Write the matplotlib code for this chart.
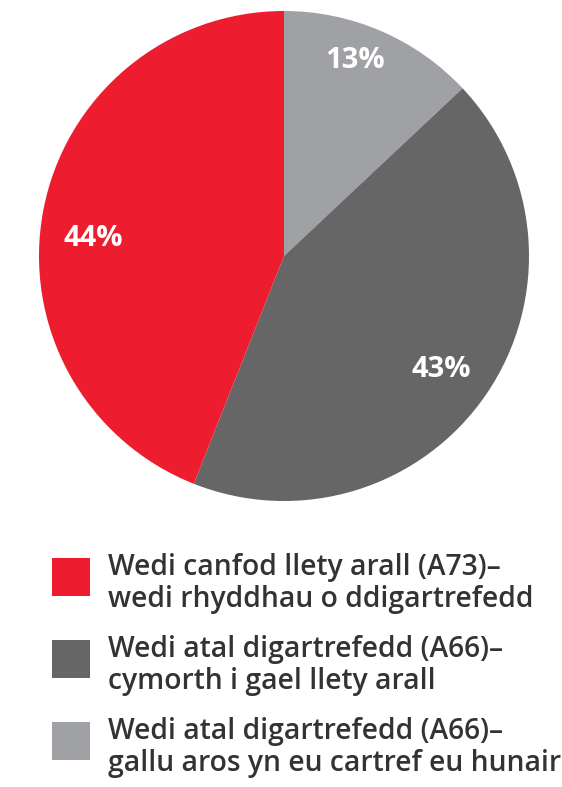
import matplotlib
matplotlib.use("Agg")
import matplotlib.pyplot as plt
import matplotlib.patches as mpatches
import numpy as np

# data, clockwise from 12 o'clock
shares = [13, 43, 44]
pct_labels = ["13%", "43%", "44%"]
colors = ["#A0A1A4", "#666666", "#ED1C2E"]
legend_lines = [
    ("Wedi canfod llety arall (A73)–", "wedi rhyddhau o ddigartrefedd"),
    ("Wedi atal digartrefedd (A66)–", "cymorth i gael llety arall"),
    ("Wedi atal digartrefedd (A66)–", "gallu aros yn eu cartref eu hunair"),
]
legend_colors = ["#ED1C2E", "#666666", "#A0A1A4"]
# label placement: radius fraction and angle nudge (deg) from wedge middle
label_dist = [0.85, 0.79, 0.78]
label_nudge = [3.5, -1.7, 5.4]

W, H = 562, 787
FONT = "Open Sans"
fig = plt.figure(figsize=(W / 100, H / 100), dpi=100)
fig.patch.set_facecolor("white")

# pie centre (284, 256) px, radius 245 px
cx, cy, r = 284, 256, 245
ax = fig.add_axes([(cx - r) / W, (H - cy - r) / H, 2 * r / W, 2 * r / H])
wedges, _ = ax.pie(shares, colors=colors, startangle=90, counterclock=False,
                   radius=1, wedgeprops=dict(linewidth=0))
ax.set_xlim(-1, 1); ax.set_ylim(-1, 1)
ax.set_aspect("equal")
ax.axis("off")

for w, lab, d, nd in zip(wedges, pct_labels, label_dist, label_nudge):
    ang = np.deg2rad((w.theta1 + w.theta2) / 2 + nd)
    ax.text(d * np.cos(ang), d * np.sin(ang), lab, ha="center", va="center",
            color="white", fontsize=21, fontweight="bold", family=FONT)

# legend drawn by hand
sq = 38
for i, ((l1, l2), c) in enumerate(zip(legend_lines, legend_colors)):
    top = 558 + i * 82
    fig.add_artist(mpatches.Rectangle((52 / W, (H - top - sq) / H), sq / W, sq / H,
                                      transform=fig.transFigure, facecolor=c,
                                      edgecolor="none"))
    fig.text(108 / W, (H - top - 9) / H, l1, ha="left", va="center",
             color="#333333", fontsize=20.3, fontweight="semibold", family=FONT)
    fig.text(108 / W, (H - top - 42) / H, l2, ha="left", va="center",
             color="#333333", fontsize=20.3, fontweight="semibold", family=FONT)

fig.savefig("out.png", dpi=100, facecolor="white")
